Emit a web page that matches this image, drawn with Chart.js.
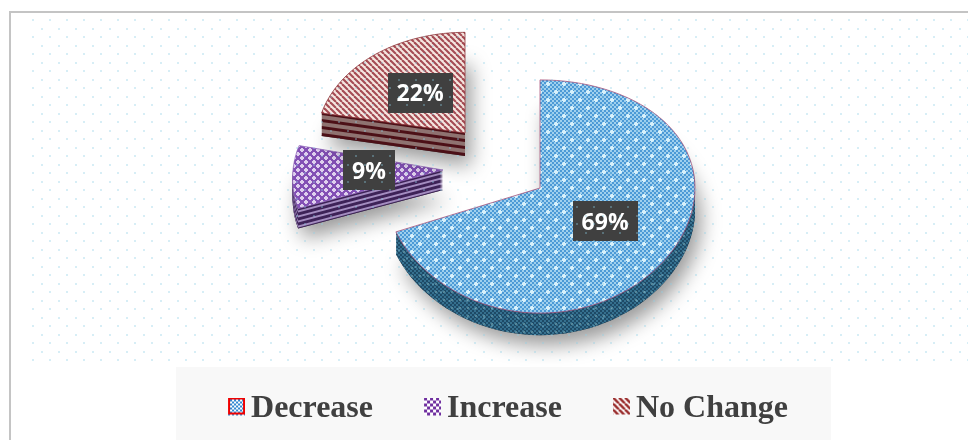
<!DOCTYPE html>
<html>
<head>
<meta charset="utf-8">
<title>Change in response</title>
<script src="https://cdn.jsdelivr.net/npm/chart.js@4"></script>
<style>
  html, body { margin: 0; padding: 0; width: 968px; height: 440px; overflow: hidden; background: #fff; }
  #frame { position: absolute; left: 9px; top: 11px; right: -4px; bottom: -4px; border: 2px solid #c4c4c4; }
  canvas { position: absolute; left: 0; top: 0; }
</style>
</head>
<body>
<div id="frame"></div>
<canvas id="pieChart" width="968" height="440"></canvas>
<script>
const categories = ['Decrease', 'Increase', 'No Change'];
const values = [69, 9, 22];
const sliceColors = ['#3288cb', '#7b3fa8', '#9d3c3f'];

// how each slice sits in the tilted view, same order as categories
const views = [
  { cx: 540, cy: 188, rx: 155, ry: 116, turn: 0, depth: 22, spread: 0, lift: 0 },
  { cx: 443, cy: 170, rx: 150, ry: 112, turn: 2, depth: 20, spread: 1, lift: 3 },
  { cx: 465, cy: 133, rx: 148, ry: 108, turn: 0, depth: 23, spread: 1, lift: 0 },
];
const perspective = 0.073;

function tile(w, h, paint) {
  const c = document.createElement('canvas');
  c.width = w; c.height = h;
  paint(c.getContext('2d'));
  return c;
}

function checker(ctx, size, w, h, a, b) {
  ctx.fillStyle = a;
  ctx.fillRect(0, 0, w, h);
  ctx.fillStyle = b;
  for (let y = 0; y < h; y += size) {
    for (let x = 0; x < w; x += size) {
      if ((x + y) / size % 2 === 0) ctx.fillRect(x, y, size, size);
    }
  }
}

function plus(ctx, x, y) {
  ctx.fillRect(x - 1, y - 2, 2, 4);
  ctx.fillRect(x - 2, y - 1, 4, 2);
}

function stripes(ctx, size, bar, a, b) {
  ctx.fillStyle = a;
  ctx.fillRect(0, 0, size, size);
  ctx.strokeStyle = b;
  ctx.lineWidth = bar;
  for (let i = -size; i <= size * 2; i += size) {
    ctx.beginPath();
    ctx.moveTo(i, 0);
    ctx.lineTo(i + size, size);
    ctx.stroke();
  }
}

const blueTile = tile(16, 16, c => {
  checker(c, 2, 16, 16, '#4c9ad6', '#9fd0ee');
  c.fillStyle = '#d8f1fb';
  plus(c, 4, 4);
  plus(c, 12, 12);
});
const blueWallTile = tile(8, 8, c => {
  checker(c, 2, 8, 8, '#1e4a66', '#35708f');
  c.fillStyle = '#55879a';
  c.fillRect(3, 3, 2, 2);
});
const purpleTile = tile(8, 8, c => {
  c.fillStyle = '#8350b5';
  c.fillRect(0, 0, 8, 8);
  c.fillStyle = '#dfd0ee';
  plus(c, 2, 2);
  plus(c, 6, 6);
});
const redTile = tile(6, 6, c => stripes(c, 6, 2.1, '#f5e6e0', '#a54c54'));

const tops = [blueTile, purpleTile, redTile];
const edges = ['rgba(165,75,115,0.75)', 'rgba(150,110,190,0.8)', 'rgba(140,50,55,0.8)'];

function wallFill(ctx, index, layer) {
  if (index === 0) return ctx.createPattern(blueWallTile, 'repeat');
  if (index === 1) return layer % 5 < 3 ? '#3e2358' : '#a48dc0';
  return layer % 7 < 3 ? '#4d1118' : '#8f7371';
}

function swatch(paint) {
  // the swatch sits in the top right of the icon so the legend text keeps close to it
  return tile(27, 23, c => { c.translate(10, 0); paint(c); });
}

const legendIcons = [
  swatch(c => {
    checker(c, 2, 17, 17, '#ffffff', '#2e86d0');
    c.strokeStyle = '#f00000';
    c.lineWidth = 2;
    c.strokeRect(1, 1, 15, 15);
  }),
  swatch(c => checker(c, 3, 17, 17, '#ffffff', '#7030a0')),
  swatch(c => {
    c.fillStyle = c.createPattern(tile(6, 6, t => stripes(t, 6, 2.6, '#ffffff', '#9c3131')), 'repeat');
    c.fillRect(0, 0, 17, 17);
  }),
];

function project(view, angle, r) {
  const a = angle + view.turn * Math.PI / 180;
  const u = Math.cos(a) * r, v = Math.sin(a) * r;
  const s = 1 / (1 - perspective * v);
  const sx = 1 + (s - 1) * view.spread;
  return [view.cx + view.rx * u * sx, view.cy + view.ry * v * s];
}

function slicePath(ctx, view, arc, drop) {
  ctx.beginPath();
  ctx.moveTo(view.cx, view.cy + drop);
  const steps = 80;
  for (let i = 0; i <= steps; i++) {
    const a = arc.startAngle + (arc.endAngle - arc.startAngle) * i / steps;
    const p = project(view, a, 1);
    ctx.lineTo(p[0], p[1] + drop);
  }
  ctx.closePath();
}

const tiltedPie = {
  id: 'tiltedPie',
  beforeDraw(chart) {
    const ctx = chart.ctx;
    ctx.save();
    ctx.fillStyle = '#f8f8f8';
    ctx.fillRect(176, 367, 655, 73);
    ctx.restore();
  },
  beforeDatasetsDraw(chart) {
    const ctx = chart.ctx;
    const arcs = chart.getDatasetMeta(0).data;

    [1, 2, 0].forEach(i => {
      const view = views[i], arc = arcs[i];
      ctx.save();
      ctx.shadowColor = 'rgba(0,0,0,0.4)';
      ctx.shadowBlur = 20;
      ctx.shadowOffsetX = 6;
      ctx.shadowOffsetY = 10;
      slicePath(ctx, view, arc, view.depth);
      ctx.fillStyle = '#444';
      ctx.fill();
      ctx.restore();

      for (let d = view.depth; d >= 1; d--) {
        slicePath(ctx, view, arc, d);
        ctx.fillStyle = wallFill(ctx, i, d);
        ctx.fill();
      }

      slicePath(ctx, view, arc, 0);
      ctx.fillStyle = ctx.createPattern(tops[i], 'repeat');
      ctx.fill();
      ctx.strokeStyle = edges[i];
      ctx.lineWidth = 1;
      ctx.stroke();
    });

    arcs.forEach((arc, i) => {
      const p = project(views[i], (arc.startAngle + arc.endAngle) / 2, 0.5);
      const text = values[i] + '%';
      const y = p[1] - views[i].lift;
      ctx.save();
      ctx.font = 'bold 23px "Open Sans"';
      const w = ctx.measureText(text).width + 18;
      ctx.fillStyle = '#404040';
      ctx.fillRect(Math.round(p[0] - w / 2) + 1, Math.round(y - 20), Math.round(w), 40);
      ctx.fillStyle = '#ffffff';
      ctx.textAlign = 'center';
      ctx.textBaseline = 'middle';
      ctx.fillText(text, p[0] + 1, y + 2);
      ctx.restore();
    });
    return false; // drawn above, skip the flat arcs
  },
  afterDraw(chart) {
    // the faint dot sheet lies over everything except the legend strip
    const ctx = chart.ctx;
    ctx.save();
    ctx.fillStyle = 'rgba(140,205,230,0.35)';
    for (let row = 0; row * 8.5 + 19 < 365; row++) {
      const y = Math.round(row * 8.5 + 19);
      for (let x = row % 2 ? 40.5 : 32; x < 968; x += 17) {
        ctx.fillRect(Math.round(x), y, 2, 2);
      }
    }
    ctx.restore();
  },
};

new Chart(document.getElementById('pieChart'), {
  type: 'pie',
  data: {
    labels: categories,
    datasets: [{ data: values, backgroundColor: sliceColors, borderWidth: 0 }],
  },
  options: {
    responsive: false,
    animation: false,
    layout: { padding: { left: 48, bottom: 5 } },
    plugins: {
      tooltip: { enabled: false },
      legend: {
        position: 'bottom',
        labels: {
          usePointStyle: true,
          boxWidth: 7,
          boxHeight: 7,
          padding: 51,
          color: '#404040',
          font: { family: '"Liberation Serif"', size: 32, weight: 'bold' },
          generateLabels: () => categories.map((text, i) => ({
            text,
            pointStyle: legendIcons[i],
            fontColor: '#404040',
            hidden: false,
            index: i,
          })),
        },
      },
    },
  },
  plugins: [tiltedPie],
});
</script>
</body>
</html>
